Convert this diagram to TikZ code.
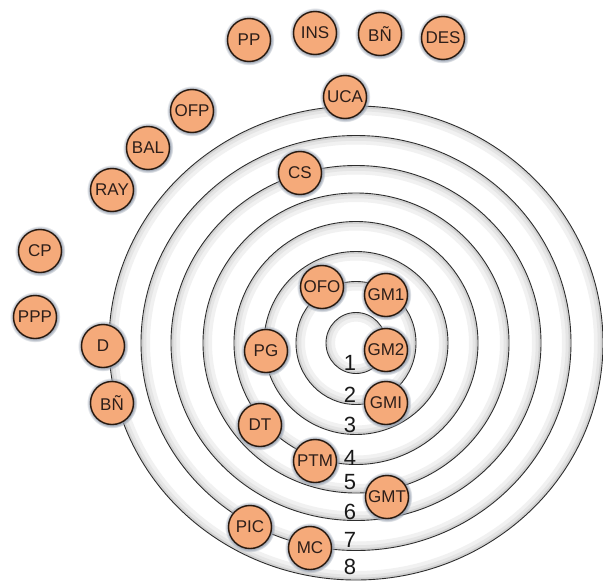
\documentclass[tikz,border=0pt]{standalone}
\usepackage{fontspec}
\setmainfont{Liberation Sans}
\usetikzlibrary{shadows}
\definecolor{nodefill}{RGB}{245,170,122}
\definecolor{nodeline}{RGB}{40,25,15}
\definecolor{ringline}{RGB}{45,45,45}
\definecolor{glow}{RGB}{150,160,175}
\definecolor{nodetext}{RGB}{45,30,25}
\begin{document}
\begin{tikzpicture}[x=1pt,y=-1pt,
  actor/.style={circle, draw=nodeline, line width=1.4pt, fill=nodefill,
    minimum size=43pt, inner sep=0pt, text=nodetext,
    font=\fontsize{17}{17}\selectfont,
    circular drop shadow={shadow xshift=0pt, shadow yshift=0pt, shadow scale=1.18, fill=glow}},
  ringnum/.style={inner sep=0pt, text=black!90, font=\fontsize{22}{22}\selectfont}]
\useasboundingbox (0,0) rectangle (603,584);
\fill[white] (0,0) rectangle (603,584);
% rings
\foreach \rx/\ry in {30/30.5, 60/61.5, 92/91.5, 122/121.5, 153/150, 185/177.5, 215/207.5, 247/237}{
  \draw[gray!11, line width=8pt] (356,343) ellipse [x radius=\rx pt-5pt, y radius=\ry pt-5pt];
  \draw[gray!20, line width=4.5pt] (356,343) ellipse [x radius=\rx pt-3pt, y radius=\ry pt-3pt];
  \draw[gray!36, line width=2pt] (356,343) ellipse [x radius=\rx pt-1.3pt, y radius=\ry pt-1.3pt];
  \draw[ringline, line width=0.9pt] (356,343) ellipse [x radius=\rx pt, y radius=\ry pt];
}
% ring numbers
\node[ringnum] (n1) at (350,363) {1};
\node[ringnum] (n2) at (350,395) {2};
\node[ringnum] (n3) at (350,425) {3};
\node[ringnum] (n4) at (350,458) {4};
\node[ringnum] (n5) at (350,482) {5};
\node[ringnum] (n6) at (350,512) {6};
\node[ringnum] (n7) at (350,540) {7};
\node[ringnum] (n8) at (350,567) {8};
% actors
\node[actor] (pp)  at (249,40)  {PP};
\node[actor] (ins) at (315,33)  {INS};
\node[actor] (bn1) at (380,34)  {BÑ};
\node[actor] (des) at (443,38)  {DES};
\node[actor] (uca) at (345,97)  {UCA};
\node[actor] (ofp) at (192,111) {OFP};
\node[actor] (bal) at (148,148) {BAL};
\node[actor] (ray) at (112,190) {RAY};
\node[actor] (cp)  at (40,251)  {CP};
\node[actor] (ppp) at (35,317)  {PPP};
\node[actor] (d)   at (103,346) {D};
\node[actor] (bn2) at (112,403) {BÑ};
\node[actor] (cs)  at (300,173) {CS};
\node[actor] (ofo) at (322,287) {OFO};
\node[actor] (gm1) at (386,295) {GM1};
\node[actor] (gm2) at (386,350) {GM2};
\node[actor] (gmi) at (386,403) {GMI};
\node[actor] (pg)  at (266,351) {PG};
\node[actor] (dt)  at (260,425) {DT};
\node[actor] (ptm) at (315,461) {PTM};
\node[actor] (gmt) at (387,497) {GMT};
\node[actor] (pic) at (250,527) {PIC};
\node[actor] (mc)  at (310,548) {MC};
\end{tikzpicture}
\end{document}
